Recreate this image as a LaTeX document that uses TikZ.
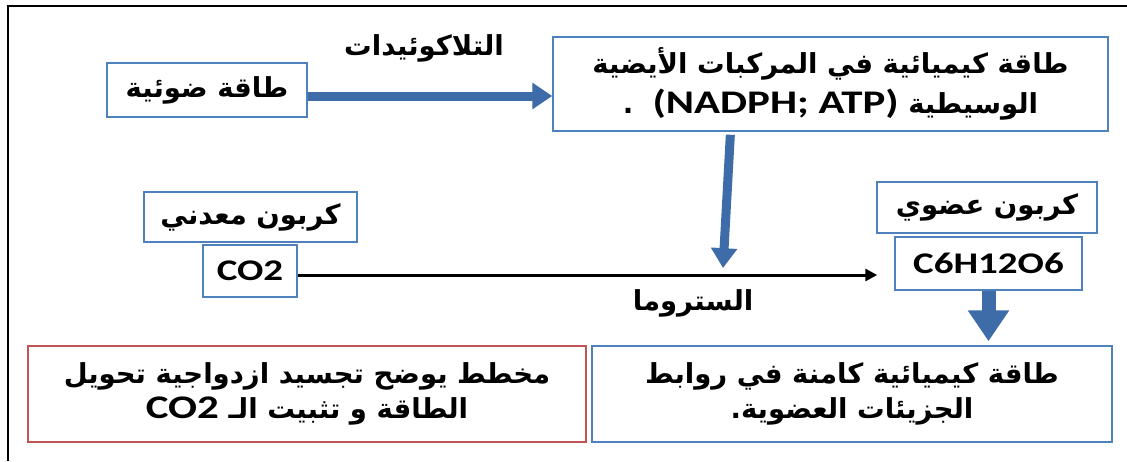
\documentclass[tikz,border=0pt]{standalone}
\usepackage{fontspec}
\setmainfont{Carlito}[FakeStretch=1.3]
\newfontfamily\latinfont{Carlito}[FakeStretch=1.3,Scale=1.2]
\newfontfamily\arabicfont[Script=Arabic]{DejaVu Sans}
\TeXXeTstate=1
\usetikzlibrary{arrows.meta}

\definecolor{boxblue}{RGB}{79,129,189}
\definecolor{arrowblue}{RGB}{62,108,168}
\definecolor{boxred}{RGB}{196,84,84}

% arabic line, right to left; latin pieces inside go in \lat
\newcommand{\ar}[1]{{\arabicfont\bfseries\beginR #1\endR}}
\newcommand{\lat}[1]{\beginL{\latinfont\bfseries #1}\endL{}}

\begin{document}
\begin{tikzpicture}[x=10pt,y=10pt,
  every node/.style={inner sep=0pt,font=\fontsize{27.5}{31}\selectfont},
  bluebox/.style={draw=boxblue,line width=1.5pt,fill=white,align=center},
  redbox/.style={draw=boxred,line width=1.5pt,fill=white,align=center},
  formula/.style={font=\fontsize{30}{33}\selectfont\bfseries},
  fatarrow/.style={draw=arrowblue,line width=#1,-{Triangle[width=0pt 2.8,length=0pt 2.2]}},
  thinarrow/.style={draw=black,line width=3pt,-{Triangle[width=12pt,length=12pt]}}]
\useasboundingbox[fill=white] (0,0) rectangle (112.7,-46.1);
\draw[line width=1.5pt] (0.8,-46.1) -- (0.8,-0.6) -- (112.7,-0.6);

% top row
\node[bluebox,minimum width=200pt,minimum height=54pt] (light) at (20.7,-9.0) {\ar{طاقة ضوئية}};
\node (thyl) at (42.4,-4.8) {\ar{التلاكوئيدات}};
\node[bluebox,minimum width=555pt,minimum height=94pt] (chem) at (83.05,-8.4)
  {\ar{طاقة كيميائية في المركبات الأيضية}\\[8pt]\ar{الوسيطية \lat{(NADPH; ATP)}\hspace{0.7em}.}};

% carbon row
\node[bluebox,minimum width=213pt,minimum height=50pt] (mineral) at (25.05,-21.7) {\ar{كربون معدني}};
\node[bluebox,formula,minimum width=94pt,minimum height=52pt] (co2) at (25.0,-27.1) {CO2};
\node[bluebox,minimum width=220pt,minimum height=51pt] (organic) at (98.7,-20.75) {\ar{كربون عضوي}};
\node[bluebox,formula,minimum width=187pt,minimum height=53pt] (glucose) at (98.85,-26.35) {C6H12O6};
\node (stroma) at (69.3,-30.3) {\ar{الستروما}};
\coordinate (fix) at (72.3,-26.8);

% bottom row
\node[bluebox,minimum width=520pt,minimum height=96pt] (bonds) at (85.2,-39.4)
  {\ar{طاقة كيميائية كامنة في روابط}\\[4pt]\ar{الجزيئات العضوية.}};
\node[redbox,minimum width=558pt,minimum height=96pt] (caption) at (30.7,-39.4)
  {\ar{مخطط يوضح تجسيد ازدواجية تحويل}\\[4pt]\ar{الطاقة و تثبيت الـ \lat{CO2}}};

% arrows
\coordinate (lightout) at ([yshift=-6pt]light.east);
\coordinate (co2out) at ([yshift=-4pt]co2.east);
\draw[fatarrow=9pt] (lightout) -- (lightout -| chem.west);
\draw[fatarrow=9pt,shorten <=3pt] ([xshift=-100pt]chem.south) -- (fix);
\draw[thinarrow,shorten >=17pt] (co2out) -- (co2out -| glucose.west);
\draw[fatarrow=14pt,shorten >=4pt] (glucose.south) -- (glucose.south |- bonds.north);
\end{tikzpicture}
\end{document}
